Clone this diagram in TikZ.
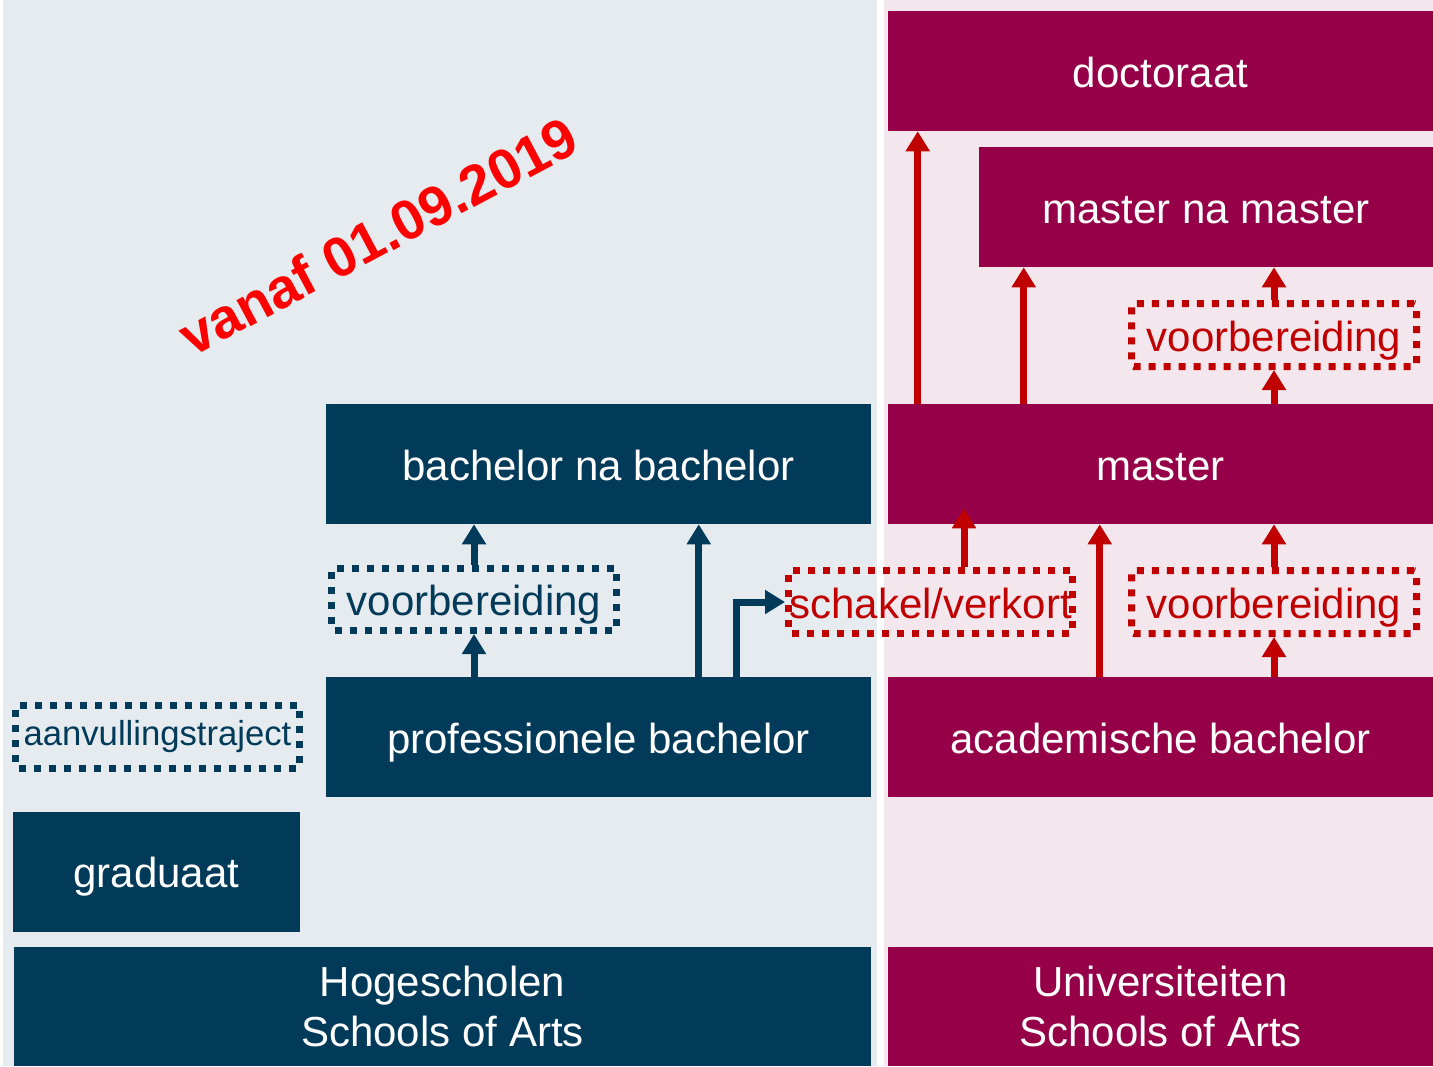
\documentclass[tikz,border=0pt]{standalone}
\usepackage{fontspec}
\setmainfont{Liberation Sans}
\usetikzlibrary{arrows.meta,calc}
\definecolor{hogblue}{RGB}{2,58,89}
\definecolor{unired}{RGB}{150,0,72}
\definecolor{arrred}{RGB}{192,0,0}
\definecolor{bghog}{RGB}{229,235,238}
\definecolor{bguni}{RGB}{243,230,237}
\tikzset{
  boxfont/.style={font=\fontsize{31.5}{37.5}\selectfont},
  oneline/.style={text height=24.6pt,text depth=0pt},
  hogbox/.style={fill=hogblue,text=white,inner sep=0pt,align=center,boxfont},
  unibox/.style={hogbox,fill=unired},
  dotbox/.style={draw,line width=5.25pt,dash pattern=on 5.25pt off 6pt,rounded corners=2pt,inner sep=0pt,boxfont},
  hogdot/.style={dotbox,draw=hogblue,text=hogblue},
  unidot/.style={dotbox,draw=arrred,text=arrred},
  hogarrow/.style={draw=hogblue,line width=5.25pt,-{Triangle[width=17.25pt,length=15pt]}},
  uniarrow/.style={hogarrow,draw=arrred},
}
\begin{document}
\begin{tikzpicture}[x=0.75pt,y=0.75pt,yscale=-1,xscale=1]
\useasboundingbox (0,0) rectangle (1433,1066);

%Shape: Rectangle [backgrounds]
\fill[bghog] (3,0) rectangle (877,1066);
\fill[bguni] (884,0) rectangle (1433,1066);

%Shape: Rectangle [universiteiten]
\node[unibox,oneline,minimum width=408.75pt,minimum height=90pt] (doct) at (1160.5,71) {doctoraat};
\node[unibox,oneline,minimum width=340.5pt,minimum height=90pt] (mnm) at (1206,207) {master na master};
\node[unibox,oneline,minimum width=408.75pt,minimum height=90pt] (master) at (1160.5,464) {master};
\node[unibox,oneline,minimum width=408.75pt,minimum height=90pt] (acad) at (1160.5,737) {academische bachelor};
\node[unibox,minimum width=408.75pt,minimum height=89.25pt] (univ) at (1160.5,1006.5) {Universiteiten\\Schools of Arts};

%Shape: Rectangle [hogescholen]
\node[hogbox,oneline,minimum width=408.75pt,minimum height=90pt] (bnb) at (598.5,464) {bachelor na bachelor};
\node[hogbox,oneline,minimum width=408.75pt,minimum height=90pt] (prof) at (598.5,737) {professionele bachelor};
\node[hogbox,oneline,minimum width=215.25pt,minimum height=90pt] (grad) at (156.5,871.5) {graduaat};
\node[hogbox,minimum width=642.75pt,minimum height=89.25pt] (hog) at (442.5,1006.5) {Hogescholen\\Schools of Arts};

%Shape: Dotted boxes
\node[hogdot,oneline,minimum width=213.75pt,minimum height=46.5pt] (voorbL) at (474,599.5) {voorbereiding};
\node[hogdot,minimum width=213pt,minimum height=47.25pt,font=\fontsize{26}{31}\selectfont] (aanv) at (157.5,737) {aanvullingstraject};
\node[unidot,oneline,minimum width=213pt,minimum height=47.25pt] (schakel) at (930.5,602) {schakel/verkort};
\node[unidot,oneline,minimum width=213.75pt,minimum height=47.25pt] (voorbR) at (1274,602) {voorbereiding};
\node[unidot,oneline,minimum width=213.75pt,minimum height=47.25pt] (voorbT) at (1274,335) {voorbereiding};

% Text Node
\node[text=red,rotate=28,font=\bfseries\fontsize{42}{48}\selectfont] (vanaf) at (378,236) {vanaf 01.09.2019};

%Straight Lines [red]
\coordinate (d1) at ($(master.north west)+(30,0)$);
\draw[uniarrow] (d1) -- (d1 |- doct.south);
\coordinate (d2) at ($(master.north west)+(136,0)$);
\draw[uniarrow] (d2) -- (d2 |- mnm.south);
\draw[uniarrow] (voorbT.south |- master.north) -- (voorbT.south);
\draw[uniarrow] (voorbT.north) -- (voorbT.north |- mnm.south);
\draw[uniarrow] (voorbR.north) -- (voorbR.north |- master.south);
\draw[uniarrow] (voorbR.south |- acad.north) -- (voorbR.south);
\coordinate (d3) at ($(schakel.north)+(33.5,0)$);
\draw[uniarrow] (d3) -- ($(d3 |- master.south)+(0,-16)$);
\coordinate (d4) at ($(acad.north west)+(212,0)$);
\draw[uniarrow] (d4) -- (d4 |- master.south);

%Straight Lines [blue]
\draw[hogarrow] (voorbL.south |- prof.north) -- (voorbL.south);
\draw[hogarrow] (voorbL.north) -- (voorbL.north |- bnb.south);
\coordinate (b1) at ($(prof.north west)+(373,0)$);
\draw[hogarrow] (b1) -- (b1 |- bnb.south);
\coordinate (b2) at ($(prof.north west)+(411,0)$);
\draw[hogarrow] (b2) |- (schakel.west);

\end{tikzpicture}
\end{document}
